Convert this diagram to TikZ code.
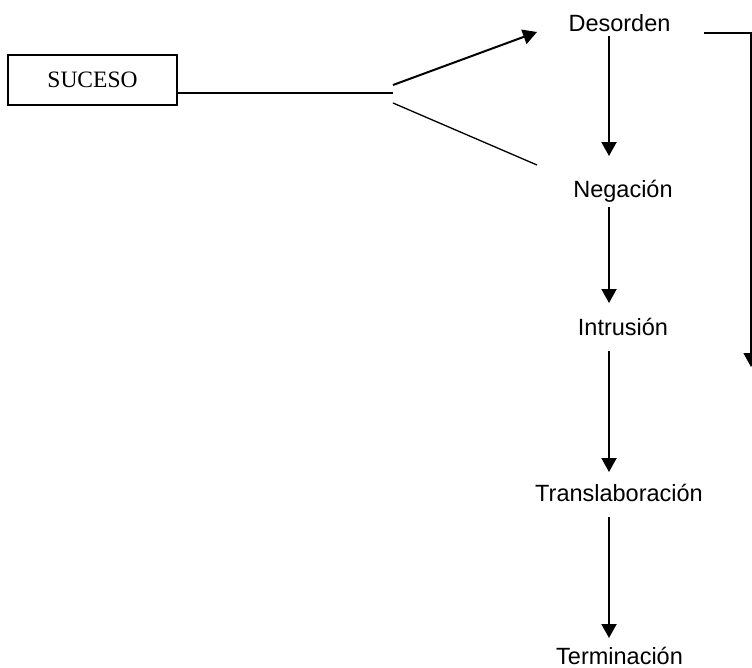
\documentclass[tikz,border=0pt]{standalone}
\usepackage{fontspec}
\setmainfont{Liberation Sans}
\newfontfamily\timesfont{Liberation Serif}
\usetikzlibrary{arrows.meta}
\tikzset{
  lbl/.style={anchor=base, inner sep=0pt, font=\fontsize{23.5}{28}\selectfont},
  boxnode/.style={draw, line width=1.4pt, minimum width=169pt, minimum height=50pt, inner sep=0pt, font=\timesfont\fontsize{23.5}{28}\selectfont},
  tip/.style={-{Triangle[length=14pt,width=15pt]}},
  arr/.style={line width=2pt, tip},
  thin/.style={line width=1.3pt},
}
\begin{document}
\begin{tikzpicture}[x=1pt,y=-1pt]
\useasboundingbox (0,0) rectangle (752,667);
% nodes
\node[boxnode] (suc) at (92.5,80) {SUCESO};
\node[lbl] (des) at (619.5,31) {Desorden};
\node[lbl] (neg) at (623,197) {Negación};
\node[lbl] (int) at (623,335) {Intrusión};
\node[lbl] (tra) at (619,501) {Translaboración};
\node[lbl] (ter) at (619.5,664) {Terminación};
% connector points
\coordinate (fork) at (393,93);
\coordinate (forkup) at (393,85);
\coordinate (forkdn) at (393,103);
\coordinate (uptip) at (537,32);
\coordinate (dnend) at (537,165);
\coordinate (d1) at (609,36);  \coordinate (n1) at (609,156);
\coordinate (n2) at (609,207); \coordinate (i1) at (609,303);
\coordinate (i2) at (609,351); \coordinate (t1) at (609,472);
\coordinate (t2) at (609,517); \coordinate (e1) at (609,638);
\coordinate (rs) at (704,33);  \coordinate (rc) at (751,33); \coordinate (re) at (751,367);
% connectors
\draw[thin] (suc.east |- fork) -- (fork);
\draw[arr] (forkup) -- (uptip);
\draw[thin] (forkdn) -- (dnend);
\draw[arr] (d1) -- (n1);
\draw[arr] (n2) -- (i1);
\draw[arr] (i2) -- (t1);
\draw[arr] (t2) -- (e1);
\draw[thin,tip] (rs) -- (rc) -- (re);
\end{tikzpicture}
\end{document}
